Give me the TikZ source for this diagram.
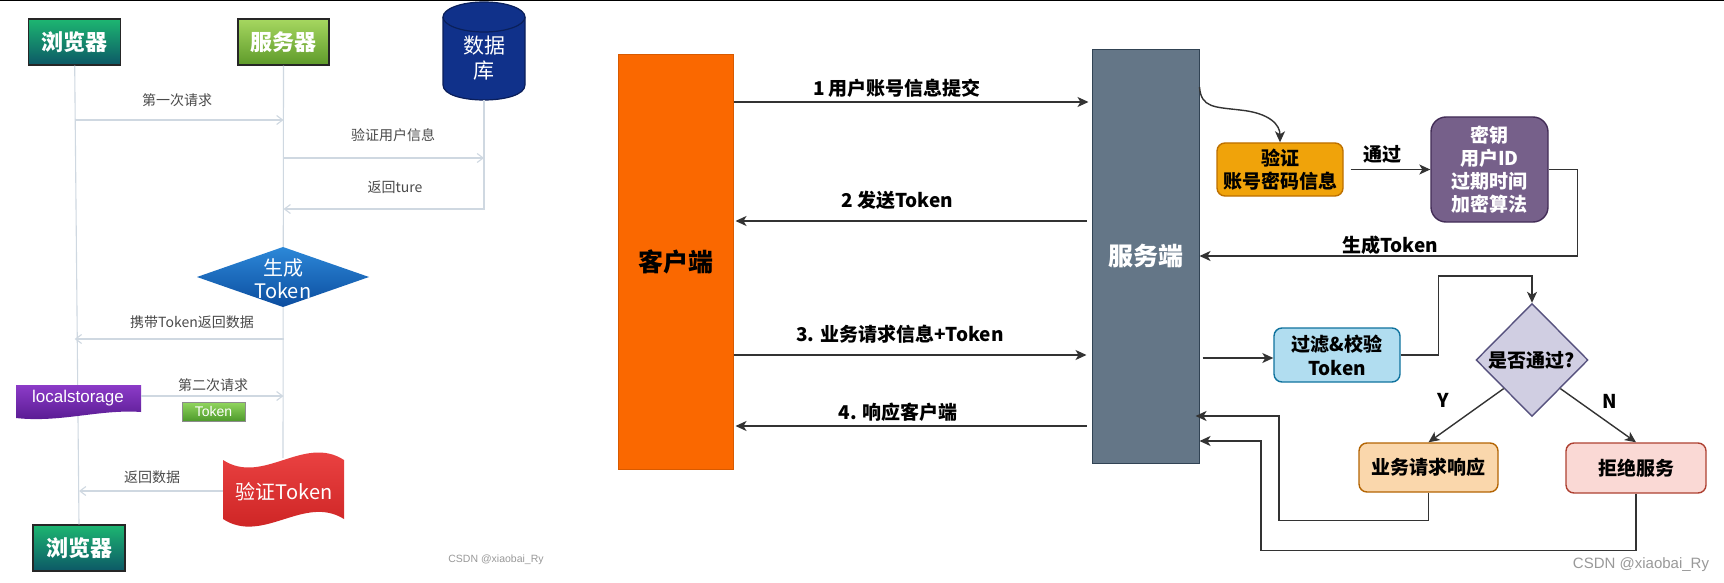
\documentclass[tikz,border=0pt]{standalone}
\usepackage{fontspec}
\newfontfamily\cjk{Noto Sans CJK SC}
\newfontfamily\lsans{Liberation Sans}
\usetikzlibrary{arrows.meta,shapes.geometric,calc}
\definecolor{seqc}{HTML}{CFD8E1}
\definecolor{lblc}{HTML}{4A4A4A}
\definecolor{conc}{HTML}{333333}
\definecolor{brtop}{HTML}{1DB671}
\definecolor{brbot}{HTML}{0C5866}
\definecolor{svtop}{HTML}{A6D760}
\definecolor{svbot}{HTML}{5E9A2A}
\definecolor{dbfill}{HTML}{10318A}
\definecolor{dbdraw}{HTML}{0A1E5A}
\definecolor{gentop}{HTML}{2C88D8}
\definecolor{genbot}{HTML}{0C4D9F}
\definecolor{lstop}{HTML}{8C3BC8}
\definecolor{lsbot}{HTML}{55198E}
\definecolor{tktop}{HTML}{92D65F}
\definecolor{tkbot}{HTML}{4E9A2C}
\definecolor{fltop}{HTML}{F04848}
\definecolor{flbot}{HTML}{C81F1F}
\definecolor{cli}{HTML}{FA6800}
\definecolor{clid}{HTML}{D85A00}
\definecolor{srvf}{HTML}{647687}
\definecolor{srvd}{HTML}{314354}
\definecolor{vff}{HTML}{F0A30A}
\definecolor{vfd}{HTML}{BD7000}
\definecolor{pkf}{HTML}{76608A}
\definecolor{pkd}{HTML}{432D57}
\definecolor{ftf}{HTML}{B1DDF0}
\definecolor{ftd}{HTML}{10739E}
\definecolor{dif}{HTML}{D0CEE2}
\definecolor{did}{HTML}{56517E}
\definecolor{rsf}{HTML}{FAD7AC}
\definecolor{rsd}{HTML}{B46504}
\definecolor{rjf}{HTML}{FAD9D5}
\definecolor{rjd}{HTML}{AE4132}
\begin{document}
\begin{tikzpicture}[x=1pt,y=-1pt,
  tbox/.style={draw=#1, line width=1.3, inner sep=0, text=white,
    font=\cjk\bfseries\fontsize{22}{26}\selectfont},
  seqline/.style={draw=seqc, line width=1.1},
  seqarr/.style={seqline, -{Straight Barb[length=6pt,width=9pt]}},
  seqlbl/.style={text=lblc, inner sep=0, font=\cjk\fontsize{14}{17}\selectfont},
  conn/.style={draw=conc, line width=1.4, -{Stealth[length=11pt,width=10pt,inset=3pt]}},
  rlbl/.style={inner sep=0, text=black, font=\cjk\bfseries\fontsize{19}{22}\selectfont},
  fbox/.style={rounded corners=8, line width=1.4, inner sep=0, align=center,
    font=\cjk\bfseries\fontsize{19}{23}\selectfont},
  wm/.style={inner sep=0, text=black!40}
]
\useasboundingbox (0,0) rectangle (1724,583);
\fill[white] (0,0) rectangle (1724,583);
\draw[black, line width=1.5] (0,0.75) -- (1724,0.75);

% ---------------- left panel ----------------
\node[tbox=black!85, top color=brtop, bottom color=brbot, minimum width=92, minimum height=46] (b1) at (74.7,42) {浏览器};
\node[tbox=black!85, top color=svtop, bottom color=svbot, minimum width=91, minimum height=46] (s1) at (283.5,42) {服务器};
\node[tbox=black!85, top color=brtop, bottom color=brbot, minimum width=92, minimum height=46] (b2) at (79,548) {浏览器};

% database cylinder
\fill[dbfill] (443,17) -- (443,85) .. controls (443,105) and (525,105) .. (525,85) -- (525,17) -- cycle;
\fill[dbfill] (484,17) ellipse [x radius=41, y radius=15];
\draw[dbdraw, line width=1.2] (443,17) -- (443,85) .. controls (443,105) and (525,105) .. (525,85) -- (525,17);
\draw[black!35!dbfill, line width=1.2] (484,17) ellipse [x radius=41, y radius=15];
\node[inner sep=0, text=white, align=center, font=\cjk\fontsize{21}{25}\selectfont] (db) at (484,58) {数据\\库};
\coordinate (dbb) at (484,100);

% lifelines
\draw[seqline] (b1.south) -- (b2.north);
\draw[seqline] (s1.south) -- (283,458);

% messages
\node[seqlbl] (m1) at (177,100) {第一次请求};
\draw[seqarr] (b1.south |- 0,120) -- (s1.south |- 0,120);
\node[seqlbl] (m2) at (393,135) {验证用户信息};
\draw[seqarr] (s1.south |- 0,158) -- (dbb |- 0,158);
\node[seqlbl] (m3) at (395,187) {返回ture};
\draw[seqarr] (dbb) |- (s1.south |- 0,209);

% generate token diamond
\shade[top color=gentop, bottom color=genbot] (197,277) -- (283,247) -- (369,277) -- (283,307) -- cycle;
\node[inner sep=0, text=white, align=center, font=\cjk\fontsize{20}{23}\selectfont] (gen) at (283,279) {生成\\Token};

\node[seqlbl] (m4) at (192,322) {携带Token返回数据};
\draw[seqarr] (s1.south |- 0,339) -- (b1.south |- 0,339);

% localstorage
\shade[top color=lstop, bottom color=lsbot] (16,385) -- (141,385) -- (141,412) .. controls (100,409) and (60,423) .. (16,418) -- cycle;
\node[inner sep=0, text=white, font=\lsans\fontsize{17}{20}\selectfont] (ls) at (78,398) {localstorage};

\node[seqlbl] (m5) at (213,385) {第二次请求};
\draw[seqarr] (141,396) -- (s1.south |- 0,396);
\node[draw=black!45, line width=0.8, top color=tktop, bottom color=tkbot, minimum width=63, minimum height=19, inner sep=0, text=white, font=\lsans\fontsize{14}{16}\selectfont] (tk) at (213.5,411.5) {Token};

% verify token flag
\shade[top color=fltop, bottom color=flbot] (223,460) .. controls (263,486) and (304,434) .. (344,460) -- (344,519) .. controls (304,494) and (263,545) .. (223,519) -- cycle;
\node[seqlbl] (m6) at (152,477) {返回数据};
\draw[seqarr] (223,491) -- (b2.north |- 0,491);
\node[inner sep=0, text=white, font=\cjk\fontsize{20}{24}\selectfont] (vt) at (284,492) {验证Token};

\node[wm, font=\lsans\fontsize{10.5}{12}\selectfont] (wm1) at (496,560) {CSDN @xiaobai\_Ry};

% ---------------- right panel ----------------
\node[draw=clid, fill=cli, line width=1, minimum width=115, minimum height=414, inner sep=0,
  font=\cjk\bfseries\fontsize{25}{28}\selectfont] (client) at (675.5,262) {客户端};
\node[draw=srvd, fill=srvf, line width=1, minimum width=107, minimum height=413, inner sep=0, text=white,
  font=\cjk\bfseries\fontsize{25}{28}\selectfont] (srv) at (1145.5,256.5) {服务端};

\node[rlbl] (l1) at (897,88) {1 用户账号信息提交};
\draw[conn, shorten >=3pt] (client.east |- 0,102) -- (srv.west |- 0,102);
\node[rlbl] (l2) at (897,200) {2 发送Token};
\draw[conn, shorten <=5pt, shorten >=2pt] (srv.west |- 0,221) -- (client.east |- 0,221);
\node[rlbl] (l3) at (900,334) {3. 业务请求信息+Token};
\draw[conn, shorten >=5pt] (client.east |- 0,355) -- (srv.west |- 0,355);
\node[rlbl] (l4) at (898,412) {4. 响应客户端};
\draw[conn, shorten <=5pt, shorten >=2pt] (srv.west |- 0,426) -- (client.east |- 0,426);

\node[fbox, draw=vfd, fill=vff, minimum width=126, minimum height=53] (vf) at (1280,169.5) {验证\\账号密码信息};
\node[fbox, rounded corners=15, draw=pkd, fill=pkf, text=white, minimum width=117, minimum height=105] (pk) at (1489.5,169.5) {密钥\\用户ID\\过期时间\\加密算法};
\node[fbox, draw=ftd, fill=ftf, minimum width=126, minimum height=54, font=\cjk\bfseries\fontsize{19}{24}\selectfont] (ft) at (1337,355) {过滤\&校验\\Token};
\node[diamond, draw=did, fill=dif, line width=1.4, minimum width=112, minimum height=113, inner sep=0,
  font=\cjk\bfseries\fontsize{19}{22}\selectfont] (dia) at (1532,360) {是否通过?};
\node[fbox, draw=rsd, fill=rsf, minimum width=139, minimum height=49] (resp) at (1428.5,467.5) {业务请求响应};
\node[fbox, draw=rjd, fill=rjf, minimum width=140, minimum height=50] (rej) at (1636,468) {拒绝服务};

\draw[conn] (srv.east |- 0,87) .. controls (1201,108) and (1215,107) .. (1240,110) .. controls (1270,113) and (1280,125) .. (vf.north);
\draw[conn, shorten <=7pt] (vf.east) -- (pk.west);
\node[rlbl] (tg) at (1382,154) {通过};
\draw[conn] (pk.east) -- ++(29,0) |- (srv.east |- 0,256);
\node[rlbl] (gt) at (1390,245) {生成Token};
\draw[conn, shorten <=3pt] (srv.east |- 0,358) -- (ft.west |- 0,358);
\draw[conn] (ft.east) -- ++(38,0) |- (dia.north |- 0,276) -- (dia.north);
\draw[conn] (dia.south west) -- (resp.north);
\node[rlbl] (ly) at (1443,400) {Y};
\draw[conn] (dia.south east) -- (rej.north);
\node[rlbl] (ln) at (1610,401) {N};
\draw[conn, shorten >=-4pt] (resp.south) -- ++(0,28) -| (1279,416) -- (srv.east |- 0,416);
\draw[conn] (rej.south) -- ++(0,57) -| (1261,441) -- (srv.east |- 0,441);

\node[wm, font=\lsans\fontsize{15}{18}\selectfont] (wm2) at (1641,565) {CSDN @xiaobai\_Ry};
\end{tikzpicture}
\end{document}
